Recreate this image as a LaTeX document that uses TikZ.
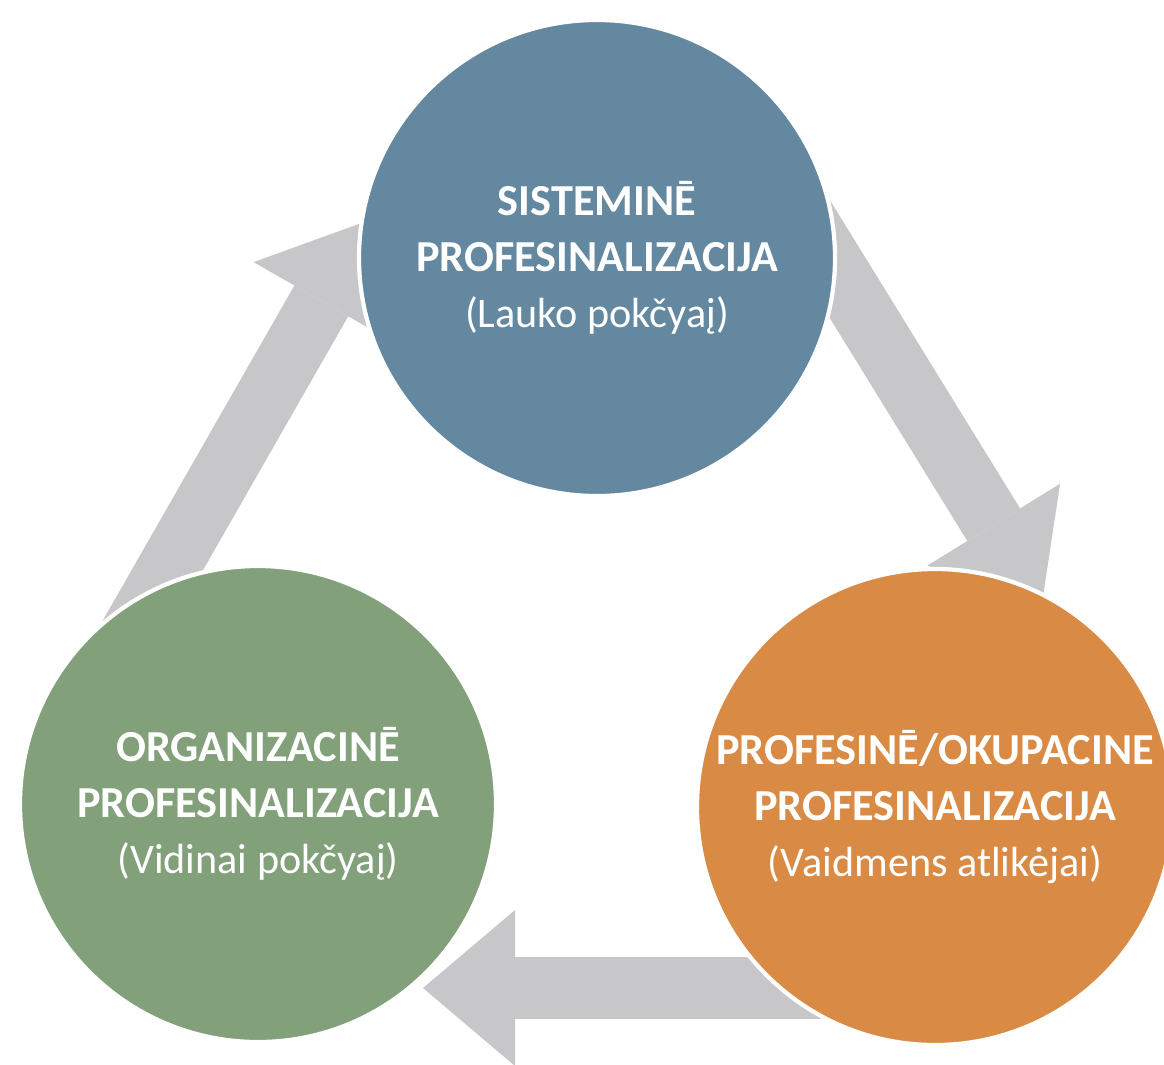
\documentclass[tikz,border=0pt]{standalone}
\usepackage{fontspec}
\setmainfont{Carlito}
\usepackage{xcolor}
\usetikzlibrary{arrows.meta}

\definecolor{sysblue}{HTML}{64889F}
\definecolor{orggreen}{HTML}{82A07A}
\definecolor{occorange}{HTML}{D98B45}
\definecolor{flowgray}{HTML}{C7C7C9}

\newcommand{\stagesub}[1]{{\fontsize{12}{15.9}\selectfont #1}}

\begin{document}
\begin{tikzpicture}[
    flow/.style={draw=flowgray, line width=0.62cm,
        -{Triangle[width=1.56cm, length=0.92cm, line width=0pt]}},
    stage/.style={circle, minimum size=4.76cm, inner sep=0pt, draw=white,
        line width=1.2pt, text=white, align=center,
        font=\fontsize{12.6}{15.9}\selectfont}
]
    \fill[white] (0,0) rectangle (11.64,10.64);
    \useasboundingbox (0,0) rectangle (11.64,10.64);

    % Arrow ends (hidden under the circles)
    \coordinate (s1) at (7.65,9.10);
    \coordinate (t1) at (10.42,4.61);
    \coordinate (s2) at (8.50,0.76);
    \coordinate (t2) at (4.23,0.76);
    \coordinate (s3) at (0.89,3.57);
    \coordinate (t3) at (3.67,8.43);

    % Cycle arrows
    \draw[flow] (s1) -- (t1);
    \draw[flow] (s2) -- (t2);
    \draw[flow] (s3) -- (t3);

    % Stages
    \node[stage, fill=sysblue] (sys) at (5.97,8.06)
        {\textbf{SISTEMINĒ}\\\textbf{PROFESINALIZACIJA}\\\stagesub{(Lauko pokčyaį)}};
    \node[stage, fill=orggreen] (org) at (2.58,2.60)
        {\textbf{ORGANIZACINĒ}\\\textbf{PROFESINALIZACIJA}\\\stagesub{(Vidinai pokčyaį)}};
    \node[stage, fill=occorange] (occ) at (9.35,2.57)
        {\textbf{PROFESINĒ/OKUPACINE}\\\textbf{PROFESINALIZACIJA}\\\stagesub{(Vaidmens atlikėjai)}};
\end{tikzpicture}
\end{document}
